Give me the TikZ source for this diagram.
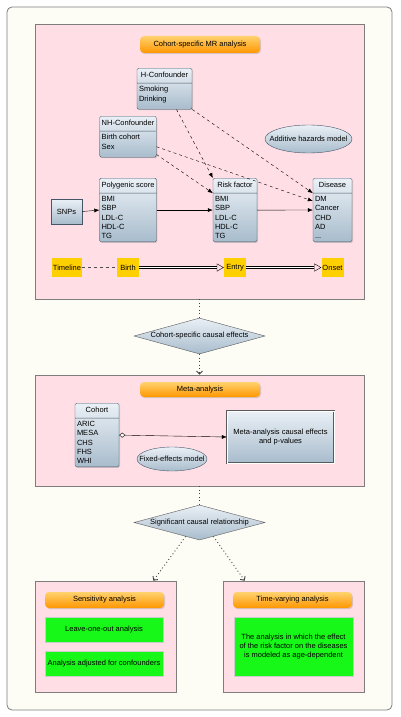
\documentclass[tikz,border=0pt]{standalone}
\usepackage{fontspec}
\setmainfont{Liberation Sans}
\usepackage{tikz}
\usetikzlibrary{arrows.meta,shapes.geometric,shapes.multipart,shadows}
\definecolor{framebg}{RGB}{253,253,246}
\definecolor{framegray}{RGB}{125,125,125}
\definecolor{panelpink}{RGB}{255,223,229}
\definecolor{boxlight}{RGB}{234,240,246}
\definecolor{boxdark}{RGB}{168,188,204}
\definecolor{boxline}{RGB}{70,86,102}
\definecolor{orangelight}{RGB}{255,210,110}
\definecolor{orangedark}{RGB}{255,150,0}
\definecolor{resultgreen}{RGB}{24,248,24}
\definecolor{timeyellow}{RGB}{255,208,0}
\newcommand{\headstrut}{\rule[-2.5pt]{0pt}{8.5pt}}
\newcommand{\tailstrut}{\rule[-5pt]{0pt}{0pt}}
\tikzset{>/.tip={Latex[length=5pt,width=4pt]},
  every node/.style={font=\fontsize{7.5}{9.3}\selectfont, inner sep=0pt},
  panel/.style={draw=framegray, fill=panelpink, line width=0.6pt, minimum width=329pt},
  header/.style={rounded corners=4pt, top color=orangelight, bottom color=orangedark,
    minimum width=120pt, minimum height=17pt,
    drop shadow={shadow xshift=1pt, shadow yshift=-1.2pt, opacity=0.3}},
  classbox/.style={rectangle split, rectangle split parts=2, rectangle split part align={center,left},
    draw=boxline, top color=boxlight, bottom color=boxdark, rounded corners=1.5pt,
    inner xsep=2pt, inner ysep=3pt, minimum width=#1, align=left, anchor=north,
    drop shadow={shadow xshift=1pt, shadow yshift=-1pt, opacity=0.3}},
  plainbox/.style={draw=boxline, top color=boxlight, bottom color=boxdark},
  ovalbox/.style={ellipse, draw=boxline, top color=boxlight, bottom color=boxdark},
  decision/.style={diamond, aspect=3.6, draw=gray!70!black, top color=boxlight, bottom color=boxdark,
    minimum width=131pt, minimum height=36pt},
  greenbox/.style={fill=resultgreen, draw=gray!40, minimum width=118pt},
  tlbox/.style={fill=timeyellow, minimum width=22pt, minimum height=19pt},
  dots/.style={draw=gray!50!black, line width=0.9pt, dash pattern=on 0.9pt off 2.6pt},
  barb/.style={-{Straight Barb[length=3pt,width=6pt]}}}
\begin{document}
\begin{tikzpicture}[x=1pt,y=-1pt]
\useasboundingbox (0,0) rectangle (400,717);
\node (frame) [draw=framegray, line width=0.8pt, rounded corners=5pt, fill=framebg,
  minimum width=385pt, minimum height=703pt] at (199.5,358.5) {};

\node (mr) [panel, minimum height=275pt] at (199.5,161.5) {};
\node (meta) [panel, minimum height=111pt] at (199.5,430.5) {};
\node (sens) [panel, minimum width=141pt, minimum height=111pt] at (105.5,636.5) {};
\node (tva) [panel, minimum width=141pt, minimum height=111pt] at (293.5,636.5) {};

\node (hmr) [header] at (200,44.5) {Cohort-specific MR analysis};
\node (hconf) [classbox=55pt] at (164.5,68) {\headstrut H-Confounder \nodepart{two} Smoking\\Drinking\tailstrut};
\node (nhconf) [classbox=56pt] at (128,116) {\headstrut NH-Confounder \nodepart{two} Birth cohort\\Sex\tailstrut};
\node (ahm) [ovalbox, minimum width=87pt, minimum height=28pt] at (308.5,139) {\makebox[40pt]{Additive hazards model}};
\node (snps) [plainbox, minimum width=31pt, minimum height=25pt,
  drop shadow={shadow xshift=1pt, shadow yshift=-1pt, opacity=0.3}] at (66.5,211.5) {SNPs};
\node (poly) [classbox=56pt] at (128,178) {\headstrut Polygenic score \nodepart{two} BMI\\SBP\\LDL-C\\HDL-C\\TG};
\node (risk) [classbox=44pt] at (235,178) {\headstrut Risk factor \nodepart{two} BMI\\SBP\\LDL-C\\HDL-C\\TG};
\node (dis) [classbox=39pt] at (332.5,178) {\headstrut Disease \nodepart{two} DM\\Cancer\\CHD\\AD\\...};

\node (tl) [tlbox, minimum width=30pt] at (67,267.5) {Timeline};
\node (birth) [tlbox] at (128,267.5) {Birth};
\node (entry) [tlbox] at (235,267.5) {Entry};
\node (onset) [tlbox] at (332.5,267.5) {Onset};

\draw[->] (snps.east) -- (poly.west);
\draw[->] (poly.east) -- (risk.west);
\draw[->] (risk.east) -- (dis.west);
\draw[dashed, ->] (hconf.-60) -- (risk.north west);
\draw[dashed, ->] (hconf.south east) -- (dis.text split west);
\draw[dashed, ->] ([yshift=-10pt]nhconf.east) -- ([yshift=9pt]dis.west);
\draw[dashed, ->] ([yshift=3pt]nhconf.south east) -- (risk.text split west);
\draw[dashed, gray!60!black] (tl) -- (birth);
\draw[double, double distance=1.5pt, -{Triangle[open, length=7pt, width=8pt]}] (birth) -- (entry);
\draw[double, double distance=1.5pt, -{Triangle[open, length=7pt, width=8pt]}] (entry) -- (onset);

\node (d1) [decision] at (199.5,336) {Cohort-specific causal effects};

\node (hmeta) [header, minimum height=15pt] at (200,389.5) {Meta-analysis};
\node (coh) [classbox=44pt] at (97,403) {\headstrut Cohort \nodepart{two} ARIC\\MESA\\CHS\\FHS\\WHI};
\node (res) [draw=gray!70!black, double, double distance=1pt, top color=boxlight, bottom color=boxdark,
  minimum width=107pt, minimum height=52pt, align=center] at (280.5,437) {Meta-analysis causal effects\\and p-values};
\node (fem) [ovalbox, minimum width=70pt, minimum height=24pt] at (172,459) {\makebox[30pt]{Fixed-effects model}};
\draw[{Diamond[open, fill=white, length=6pt, width=5pt]}->] (coh.east) -- (res.west);

\node (d2) [decision, minimum height=35pt] at (199.5,522.5) {Significant causal relationship};

\node (hsens) [header, minimum width=119pt, minimum height=16pt] at (104.5,600) {Sensitivity analysis};
\node (htv) [header, minimum width=119pt, minimum height=16pt] at (292.5,600) {Time-varying analysis};
\node (loo) [greenbox, minimum height=25pt] at (104,629.5) {Leave-one-out analysis};
\node (adj) [greenbox, minimum height=25pt] at (104,663.5) {Analysis adjusted for confounders};
\node (tvt) [greenbox, minimum width=119pt, minimum height=59pt, align=center] at (293.5,646.5)
  {The analysis in which the effect\\of the risk factor on the diseases\\is modeled as age-dependent};

\draw[dots] (mr.south) -- (d1.north);
\draw[dots, barb] (d1.south) -- (meta.north);
\draw[dots] (meta.south) -- (d2.north);
\draw[dots, barb] (d2.-135) -- ([xshift=-23pt]sens.north east);
\draw[dots, barb] (d2.-45) -- ([xshift=22pt]tva.north west);
\end{tikzpicture}
\end{document}
